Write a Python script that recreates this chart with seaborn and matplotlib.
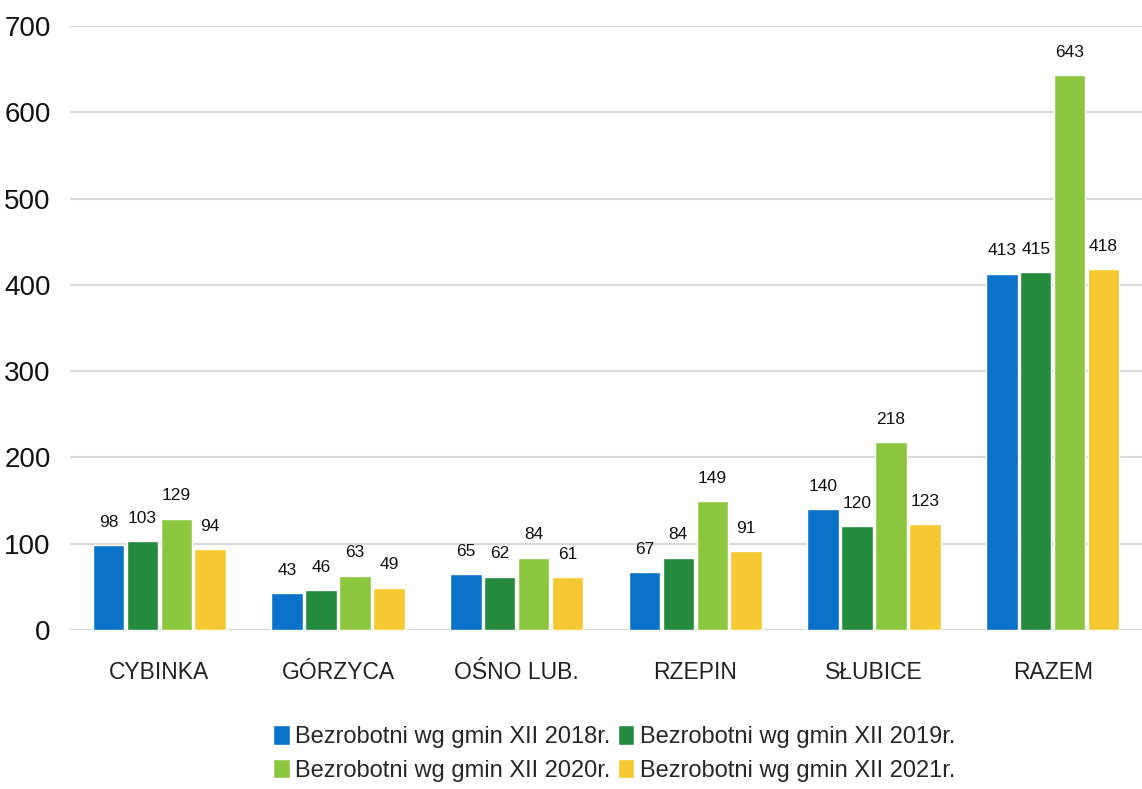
import matplotlib
matplotlib.use("Agg")
import matplotlib.pyplot as plt
from matplotlib import font_manager
import seaborn as sns
import pandas as pd

gminy = ["CYBINKA", "GÓRZYCA", "OŚNO LUB.", "RZEPIN", "SŁUBICE", "RAZEM"]
serie = [
    "Bezrobotni wg gmin XII 2018r.",
    "Bezrobotni wg gmin XII 2019r.",
    "Bezrobotni wg gmin XII 2020r.",
    "Bezrobotni wg gmin XII 2021r.",
]
v2018 = [98, 43, 65, 67, 140, 413]
v2019 = [103, 46, 62, 84, 120, 415]
v2020 = [129, 63, 84, 149, 218, 643]
v2021 = [94, 49, 61, 91, 123, 418]
kolory = ["#0b72c9", "#248a3e", "#8cc63f", "#f6c933"]

rows = []
for s, vals in zip(serie, [v2018, v2019, v2020, v2021]):
    for g, v in zip(gminy, vals):
        rows.append({"gmina": g, "seria": s, "wartosc": v})
df = pd.DataFrame(rows)

sns.set_theme(style="white")
names = {f.name for f in font_manager.fontManager.ttflist}
fam = ["Liberation Sans Narrow", "Liberation Sans", "DejaVu Sans"]
fam = [f for f in fam if f in names] + ["DejaVu Sans"]
plt.rcParams["font.family"] = fam

fig = plt.figure(figsize=(11.42, 7.89), dpi=100)
ax = fig.add_axes([0.0613, 0.2015, 0.9387, 0.7655])

sns.barplot(data=df, x="gmina", y="wartosc", hue="seria", palette=kolory,
            saturation=1, width=0.76, gap=0.07, ax=ax, legend=True,
            errorbar=None)

for cont in ax.containers:
    ax.bar_label(cont, padding=11, fontsize=12.5, color="#111111")

ax.set_ylim(0, 700)
ax.set_xlim(-0.5, 5.5)
ax.set_yticks(range(0, 701, 100))
ax.yaxis.grid(True, color="#d9d9d9", linewidth=1.6)
ax.set_axisbelow(True)
for sp in ax.spines.values():
    sp.set_visible(False)
ax.tick_params(axis="y", length=0, labelsize=20, pad=14, colors="#111111")
ax.tick_params(axis="x", length=0, labelsize=16.5, pad=22, colors="#222222")
ax.set_xlabel("")
ax.set_ylabel("")

# legend filled row by row: 2018, 2019 / 2020, 2021
handles, labels = ax.get_legend_handles_labels()
order = [0, 2, 1, 3]
ax.legend_.remove()
fig.legend([handles[i] for i in order], [labels[i] for i in order],
           loc="center", bbox_to_anchor=(0.538, 0.045),
           ncol=2, frameon=False, fontsize=17, handlelength=0.7,
           handleheight=0.9, handletextpad=0.25, columnspacing=0.3,
           labelspacing=0.45)

fig.savefig("out.png", dpi=100)
